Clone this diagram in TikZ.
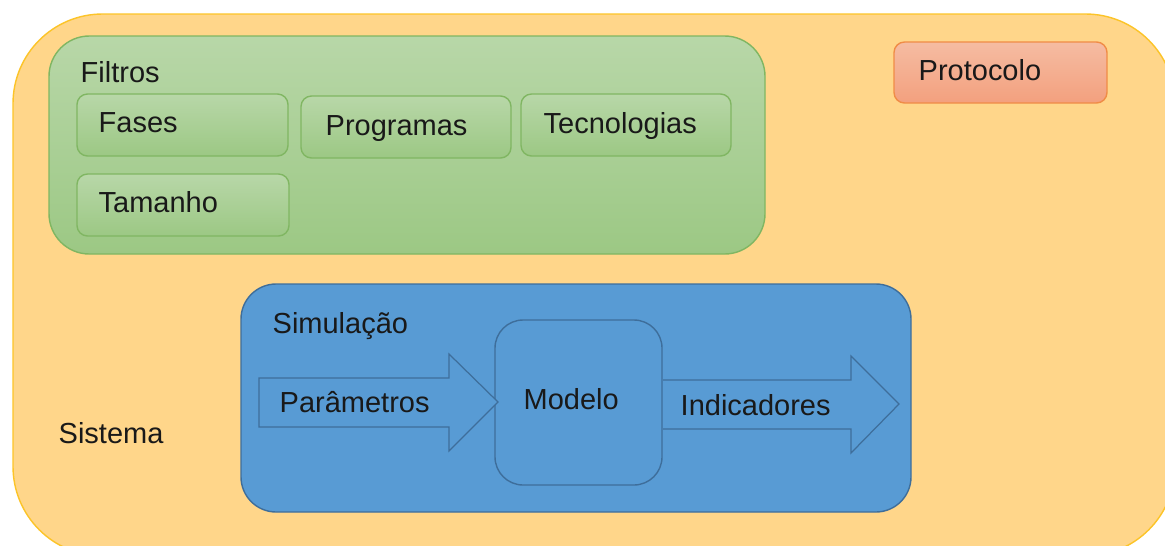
\documentclass[tikz,border=0pt]{standalone}
\usepackage{fontspec}
\setmainfont{Liberation Sans}
\definecolor{sisFill}{RGB}{255,214,138}
\definecolor{sisLine}{RGB}{252,196,40}
\definecolor{filTop}{RGB}{184,215,168}
\definecolor{filBot}{RGB}{156,200,132}
\definecolor{filLine}{RGB}{128,182,98}
\definecolor{proTop}{RGB}{245,188,162}
\definecolor{proBot}{RGB}{243,160,126}
\definecolor{proLine}{RGB}{240,140,70}
\definecolor{simFill}{RGB}{88,155,212}
\definecolor{simLine}{RGB}{62,110,155}
\begin{document}
\begin{tikzpicture}[x=0.02cm, y=-0.02cm, line width=0.8pt,
    txt/.style={anchor=base west, inner sep=0pt, font=\fontsize{16.5}{20}\selectfont, text=black!90},
    filbox/.style={draw=filLine, top color=filTop, bottom color=filBot},
    simbox/.style={draw=simLine, fill=simFill}]
    \useasboundingbox (0,0) rectangle (1165,545);
    \clip (0,0) rectangle (1165,545);

    % Sistema
    \draw[draw=sisLine, fill=sisFill, rounded corners=51pt] (13,14) rectangle (1175,556);
    \node[txt] (sistema) at (58,443) {Sistema};

    % Filtros
    \draw[filbox, rounded corners=23pt] (49,36) rectangle (765,254);
    \node[txt] (filtros) at (80,82) {Filtros};
    \draw[filbox, rounded corners=6pt] (77,94) rectangle (288,156);
    \draw[filbox, rounded corners=6pt] (301,96) rectangle (511,158);
    \draw[filbox, rounded corners=6pt] (521,94) rectangle (731,156);
    \draw[filbox, rounded corners=6pt] (77,174) rectangle (289,236);
    \node[txt] (fases) at (98,132) {Fases};
    \node[txt] (programas) at (325,135) {Programas};
    \node[txt] (tecnologias) at (543,133) {Tecnologias};
    \node[txt] (tamanho) at (98,212) {Tamanho};

    % Protocolo
    \draw[draw=proLine, top color=proTop, bottom color=proBot, rounded corners=6pt]
        (894,42) rectangle (1107,103);
    \node[txt] (protocolo) at (918,80) {Protocolo};

    % Simulação
    \draw[simbox, rounded corners=20pt] (241,284) rectangle (911,512);
    \node[txt] (simulacao) at (272,333) {Simulação};
    \draw[simbox, rounded corners=16pt] (495,320) rectangle (662,485);
    \node[txt] (modelo) at (523,409) {Modelo};

    % setas
    \draw[simbox, line width=0.7pt] (259,378) -- (449,378) -- (449,354) -- (498,402)
        -- (449,451) -- (449,427) -- (259,427) -- cycle;
    \node[txt] (parametros) at (279,412) {Parâmetros};
    \draw[simbox, line width=0.7pt] (663,380) -- (851,380) -- (851,356) -- (899,404)
        -- (851,453) -- (851,429) -- (663,429);
    \node[txt] (indicadores) at (680,415) {Indicadores};
\end{tikzpicture}
\end{document}
